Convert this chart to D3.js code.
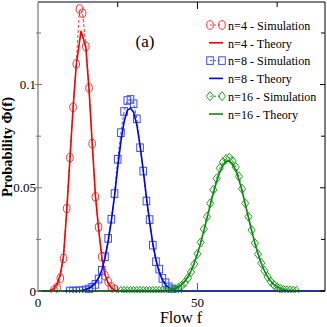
<!DOCTYPE html>
<html><head><meta charset="utf-8">
<script src="https://cdn.jsdelivr.net/npm/d3@7"></script>
<style>body{margin:0;background:#fff}svg{display:block}</style>
</head><body>
<svg id="c" width="327" height="327"></svg>
<script>
// ---- data ----
const simF4 = [5,6,7,8,9,10,11,12,13,14,15,16,17,18,19,20,21,22,23,24];
const simP4 = [0.0004,0.0018,0.0062,0.0158,0.0400,0.0646,0.0890,0.1100,0.1366,0.1346,0.1185,0.0984,0.0714,0.0456,0.0309,0.0166,0.0074,0.0045,0.0020,0.0008];
const theoF4 = [0,3,4,5,6,7,8,9,10,11,12,13.5,15,16,17,18,19,20,21,22,23,24,25];
const theoP4 = [0,0,0.0003,0.0012,0.0035,0.0080,0.0170,0.0385,0.0635,0.0885,0.1095,0.1260,0.1180,0.0975,0.0715,0.0465,0.0300,0.0165,0.0080,0.0038,0.0015,0.0005,0];

const simF8 = [10,11,12,13,14,15,16,17,18,19,20,21,22,23,24,25,26,27,28,29,30,31,32,33,34,35,36,37,38,39,40,41,42,43,44];
const simP8 = [0,0,0,0.0001,0.0002,0.0005,0.0010,0.0018,0.0032,0.0058,0.0100,0.0166,0.0255,0.0348,0.0472,0.0638,0.0767,0.0870,0.0923,0.0928,0.0907,0.0834,0.0694,0.0581,0.0436,0.0346,0.0222,0.0142,0.0106,0.0061,0.0040,0.0020,0.0010,0.0005,0.0002];
const theoF8 = [8,9,10,11,12,13,14,15,16,17,18,19,20,21,22,23,24,25,26,27,28,29,30,31,32,33,34,35,36,37,38,39,40,41,42,43,44,45,90];
const theoP8 = [0,0,0,0,0.0001,0.0002,0.0004,0.0008,0.0014,0.0024,0.0040,0.0064,0.0100,0.0158,0.0240,0.0340,0.0460,0.0600,0.0725,0.0820,0.0875,0.0886,0.0865,0.0805,0.0705,0.0585,0.0455,0.0335,0.0230,0.0150,0.0092,0.0054,0.0030,0.0016,0.0008,0.0004,0.0002,0,0];

const simF16 = [26,27,28,29,30,31,32,33,34,35,36,37,38,39,40,41,42,43,44,45,46,47,48,49,50,51,52,53,54,55,56,57,58,59,60,61,62,63,64,65,66,67,68,69,70,71,72,73,74,75,76,77,78,79,80,81];
const simP16 = [0,0,0,0,0,0,0,0,0,0,0,0,0,0,0,0.0002,0.0004,0.0008,0.0015,0.0025,0.0040,0.0062,0.0092,0.0130,0.0180,0.0235,0.0300,0.0360,0.0425,0.0490,0.0545,0.0595,0.0625,0.0640,0.0645,0.0630,0.0600,0.0555,0.0495,0.0425,0.0360,0.0295,0.0232,0.0178,0.0135,0.0098,0.0068,0.0045,0.0029,0.0018,0.0011,0.0006,0.0003,0.0002,0.0001,0];
const theoF16 = [0,38,39,40,41,42,43,44,45,46,47,48,49,50,51,52,53,54,55,56,57,58,59,60,61,62,63,64,65,66,67,68,69,70,71,72,73,74,75,76,77,78,79,80,82];
const theoP16 = [0,0,0.0001,0.0002,0.0004,0.0007,0.0012,0.0020,0.0031,0.0047,0.0069,0.0098,0.0135,0.0180,0.0232,0.0290,0.0352,0.0415,0.0475,0.0530,0.0575,0.0610,0.0628,0.0630,0.0615,0.0585,0.0540,0.0484,0.0420,0.0355,0.0292,0.0233,0.0180,0.0135,0.0098,0.0069,0.0047,0.0031,0.0020,0.0012,0.0007,0.0004,0.0002,0.0001,0];

const xMajor = [0, 50];
const xMinor = [25, 75];
const yMajor = [0, 0.05, 0.1];
const yMinor = [0.025, 0.075, 0.125];
const legendLabels = ["n=4 - Simulation","n=4 - Theory","n=8 - Simulation","n=8 - Theory","n=16 - Simulation","n=16 - Theory"];

// ---- layout ----
const L = 38, R = 325, T = 2, B = 291;
const svg = d3.select("#c");
const x = d3.scaleLinear().domain([0, 90]).range([L, R]);
const y = d3.scaleLinear().domain([0, 0.14]).range([B, T]);
const serif = "'Liberation Serif','Times New Roman',serif";

const series = [
  {sf: simF4, sp: simP4, tf: theoF4, tp: theoP4, col: "#ff0000", mcol: "#ff3030", shape: "circle"},
  {sf: simF8, sp: simP8, tf: theoF8, tp: theoP8, col: "#0000ff", mcol: "#3a4cff", shape: "square"},
  {sf: simF16, sp: simP16, tf: theoF16, tp: theoP16, col: "#0f8a0f", mcol: "#22a022", shape: "diamond"}
];

function marker(g, shape, cx, cy, col) {
  if (shape === "circle") {
    g.append("ellipse").attr("cx", cx).attr("cy", cy).attr("rx", 3.3).attr("ry", 4.3)
      .attr("fill", "none").attr("stroke", col).attr("stroke-width", 1);
  } else if (shape === "square") {
    g.append("rect").attr("x", cx - 3.3).attr("y", cy - 3.8).attr("width", 6.6).attr("height", 7.6)
      .attr("fill", "none").attr("stroke", col).attr("stroke-width", 1);
  } else {
    g.append("path").attr("d", `M${cx},${cy-4.6}L${cx+3.6},${cy}L${cx},${cy+4.6}L${cx-3.6},${cy}Z`)
      .attr("fill", "none").attr("stroke", col).attr("stroke-width", 1);
  }
}

const plot = svg.append("g");
svg.append("clipPath").attr("id", "clp").append("rect")
  .attr("x", L).attr("y", T).attr("width", R - L).attr("height", B - T + 2);
plot.attr("clip-path", "url(#clp)");

const line = d3.line().x(d => x(d[0])).y(d => y(d[1]));

series.forEach(s => {
  const simPts = s.sf.map((f, i) => [f, s.sp[i]]);
  plot.append("path").attr("d", line(simPts)).attr("fill", "none")
    .attr("stroke", s.mcol).attr("stroke-width", 1).attr("stroke-dasharray", "3,2");
  const mg = plot.append("g");
  simPts.forEach(p => marker(mg, s.shape, x(p[0]), y(p[1]), s.mcol));
  const thPts = s.tf.map((f, i) => [f, s.tp[i]]);
  plot.append("path").attr("d", line(thPts)).attr("fill", "none")
    .attr("stroke", s.col).attr("stroke-width", 1.6);
});

// ---- frame & axes ----
svg.append("line").attr("x1", L).attr("x2", R).attr("y1", T).attr("y2", T).attr("stroke", "#000").attr("stroke-width", 1);
svg.append("line").attr("x1", R).attr("x2", R).attr("y1", T).attr("y2", B).attr("stroke", "#000").attr("stroke-width", 1);
svg.append("line").attr("x1", L).attr("x2", R).attr("y1", B).attr("y2", B).attr("stroke", "#0a2a30").attr("stroke-width", 1.2);
svg.append("line").attr("x1", L).attr("x2", L).attr("y1", T).attr("y2", B).attr("stroke", "#8a8a8a").attr("stroke-width", 1.4);

yMajor.forEach(v => {
  svg.append("line").attr("x1", L - 3).attr("x2", L + 4).attr("y1", y(v)).attr("y2", y(v)).attr("stroke", "#777").attr("stroke-width", 1);
  svg.append("line").attr("x1", R - 5).attr("x2", R).attr("y1", y(v)).attr("y2", y(v)).attr("stroke", "#000").attr("stroke-width", 1);
});
yMinor.forEach(v => {
  svg.append("line").attr("x1", L - 2).attr("x2", L + 3).attr("y1", y(v)).attr("y2", y(v)).attr("stroke", "#777").attr("stroke-width", 1);
  svg.append("line").attr("x1", R - 4).attr("x2", R).attr("y1", y(v)).attr("y2", y(v)).attr("stroke", "#000").attr("stroke-width", 1);
});
yMajor.forEach(v => {
  svg.append("text").attr("x", 36).attr("y", y(v) + 4.5)
    .attr("text-anchor", "end").attr("font-family", serif).attr("font-size", 13)
    .text(v === 0 ? "0" : d3.format("")(v));
});
xMajor.concat(xMinor).forEach(v => {
  const major = xMajor.includes(v);
  if (v !== 0) {
    svg.append("line").attr("x1", x(v)).attr("x2", x(v)).attr("y1", B).attr("y2", B - (major ? 8 : 5)).attr("stroke", "#555").attr("stroke-width", 1);
    svg.append("line").attr("x1", x(v)).attr("x2", x(v)).attr("y1", T).attr("y2", T + (major ? 7 : 5)).attr("stroke", "#000").attr("stroke-width", 1);
  }
});
xMajor.forEach(v => {
  svg.append("text").attr("x", x(v)).attr("y", 307).attr("text-anchor", "middle")
    .attr("font-family", serif).attr("font-size", 13).text(String(v));
});

// titles
svg.append("text").attr("x", 181).attr("y", 323).attr("text-anchor", "middle")
  .attr("font-family", serif).attr("font-size", 16).text("Flow f");
svg.append("text").attr("transform", "translate(12,147) rotate(-90)").attr("text-anchor", "middle")
  .attr("font-family", serif).attr("font-size", 14.5).attr("font-weight", "bold").text("Probability Φ(f)");
svg.append("text").attr("x", 145).attr("y", 47).attr("text-anchor", "middle")
  .attr("font-family", serif).attr("font-size", 17).text("(a)");

// legend
const lg = svg.append("g");
legendLabels.forEach((lab, i) => {
  const s = series[Math.floor(i / 2)];
  const cy = 25 + i * 17.8;
  if (i % 2 === 0) {
    lg.append("line").attr("x1", 210).attr("x2", 222).attr("y1", cy).attr("y2", cy)
      .attr("stroke", s.mcol).attr("stroke-width", 1).attr("stroke-dasharray", "2,2");
    marker(lg, s.shape, 210, cy, s.mcol);
    marker(lg, s.shape, 222, cy, s.mcol);
  } else {
    lg.append("line").attr("x1", 209).attr("x2", 223).attr("y1", cy).attr("y2", cy)
      .attr("stroke", s.col).attr("stroke-width", 1.6);
  }
  lg.append("text").attr("transform", `translate(228,${cy + 4.8}) scale(0.9,1)`)
    .attr("font-family", serif).attr("font-size", 13.5).text(lab);
});
</script>
</body></html>
